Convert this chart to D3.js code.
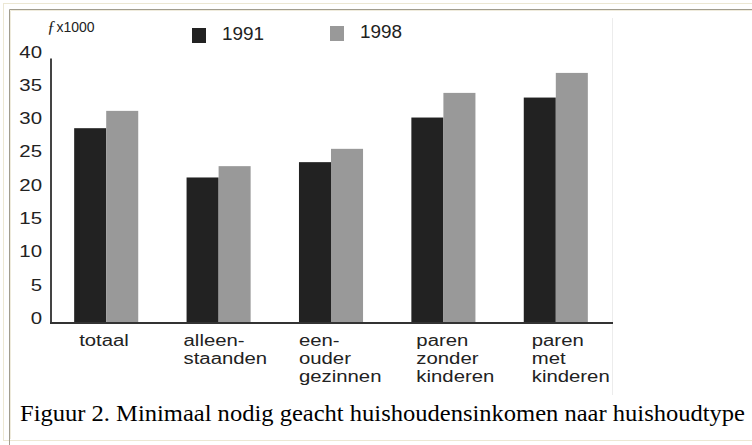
<!DOCTYPE html>
<html>
  <head>
    <meta charset="UTF-8">
    <title>Minimaal nodig geacht huishoudensinkomen</title>
    <script src="https://d3js.org/d3.v7.min.js"></script>
    <style>
      body { margin: 0; background: #fff; }
      svg text { font-family: "Liberation Sans", Arial, sans-serif; fill: #222; }
      svg text.caption { font-family: "Liberation Serif", "Times New Roman", serif; fill: #000; }
      svg tspan.f { font-family: "Liberation Serif", serif; font-style: italic; }
    </style>
  </head>
  <body>
    <svg width="752" height="445"></svg>
    <script>
      const categories = [
        ["totaal"],
        ["alleen-", "staanden"],
        ["een-", "ouder", "gezinnen"],
        ["paren", "zonder", "kinderen"],
        ["paren", "met", "kinderen"]
      ];
      const series = ["1991", "1998"];
      const values1991 = [28.5, 21.1, 23.4, 30.1, 33.1];
      const values1998 = [31.1, 22.8, 25.4, 33.8, 36.8];
      const yTicks = [0, 5, 10, 15, 20, 25, 30, 35, 40];
      const caption = "Figuur 2. Minimaal nodig geacht huishoudensinkomen naar huishoudtype";

      const colors = { "1991": "#222222", "1998": "#999999" };
      // the category labels in the source are not all set at the same spot under their bars
      const labelNudge = [5, -3, 0, 5, 8];

      const keys = categories.map(c => c.join(" "));
      const rows = keys.map((k, i) => ({ key: k, i, lines: categories[i], "1991": values1991[i], "1998": values1998[i] }));

      const svg = d3.select("svg");

      // frame, like the table cell around the picture
      svg.append("rect")
        .attr("x", 3.5).attr("y", 3.5).attr("width", 760).attr("height", 437)
        .attr("fill", "none").attr("stroke", "#ece7d3");
      svg.append("path")
        .attr("d", "M9.5,445V9.5H760")
        .attr("fill", "none").attr("stroke", "#a19d8e");
      svg.append("path")
        .attr("d", "M10.5,439V10.5H760")
        .attr("fill", "none").attr("stroke", "#efebdc");
      svg.append("line")
        .attr("x1", 612.5).attr("x2", 612.5).attr("y1", 18).attr("y2", 395)
        .attr("stroke", "#ececec");

      const y = d3.scaleLinear().domain([0, 40]).range([318, 51.6]);
      const baseY = y(0) + 5;

      const x0 = d3.scaleBand().domain(keys).range([50, 612]).paddingInner(0.43).paddingOuter(0.215);
      const x1 = d3.scaleBand().domain(series).range([0, x0.bandwidth()]);

      // stretch glyphs horizontally, the source art is wider than Arial
      function stretch(sel, f) {
        sel.each(function () {
          const w = this.getComputedTextLength();
          d3.select(this).attr("textLength", w * f).attr("lengthAdjust", "spacingAndGlyphs");
        });
      }

      // bars
      svg.append("g")
        .selectAll("g")
        .data(rows)
        .join("g")
        .attr("transform", d => `translate(${x0(d.key)},0)`)
        .selectAll("rect")
        .data(d => series.map(s => ({ s, v: d[s] })))
        .join("rect")
        .attr("x", d => x1(d.s))
        .attr("y", d => y(d.v))
        .attr("width", x1.bandwidth())
        .attr("height", d => baseY - y(d.v))
        .attr("fill", d => colors[d.s]);

      // y axis
      const yAxis = svg.append("g")
        .attr("transform", "translate(42,0)")
        .call(d3.axisLeft(y).tickValues(yTicks).tickSize(0).tickPadding(0));
      yAxis.select(".domain").remove();
      yAxis.selectAll("text")
        .attr("font-size", 17)
        .call(stretch, 1.2);

      svg.append("line")
        .attr("x1", 51).attr("x2", 51).attr("y1", y(40) + 7).attr("y2", baseY + 1)
        .attr("stroke", "#444").attr("stroke-width", 2);
      svg.append("line")
        .attr("x1", 50).attr("x2", 613).attr("y1", baseY).attr("y2", baseY)
        .attr("stroke", "#333").attr("stroke-width", 2);

      // category labels
      const catLabels = svg.append("g")
        .selectAll("text")
        .data(rows)
        .join("text")
        .attr("x", d => x0(d.key) + labelNudge[d.i])
        .attr("y", 346)
        .attr("font-size", 16);
      catLabels.selectAll("tspan")
        .data(d => d.lines.map((t, j) => ({ t, j, x: x0(d.key) + labelNudge[d.i] })))
        .join("tspan")
        .attr("x", d => d.x)
        .attr("dy", d => d.j === 0 ? 0 : 18)
        .text(d => d.t)
        .call(stretch, 1.27);

      // unit
      const unit = svg.append("text").attr("x", 47).attr("y", 32);
      unit.append("tspan")
        .attr("class", "f")
        .attr("font-size", 17)
        .text("ƒ");
      unit.append("tspan")
        .attr("font-size", 14)
        .attr("dx", 1)
        .text("x1000");

      // legend
      const legendX = [192, 330];
      const legendY = [28, 26];
      const legend = svg.append("g")
        .selectAll("g")
        .data(series)
        .join("g")
        .attr("transform", (d, i) => `translate(${legendX[i]},${legendY[i]})`);
      legend.append("rect")
        .attr("width", 14).attr("height", 15)
        .attr("fill", d => colors[d]);
      legend.append("text")
        .attr("x", 30).attr("y", 12)
        .attr("font-size", 18)
        .text(d => d)
        .call(stretch, 1.05);

      // caption
      svg.append("text")
        .attr("class", "caption")
        .attr("x", 20).attr("y", 421)
        .attr("font-size", 24)
        .attr("textLength", 725)
        .attr("lengthAdjust", "spacingAndGlyphs")
        .text(caption);
    </script>
  </body>
</html>
